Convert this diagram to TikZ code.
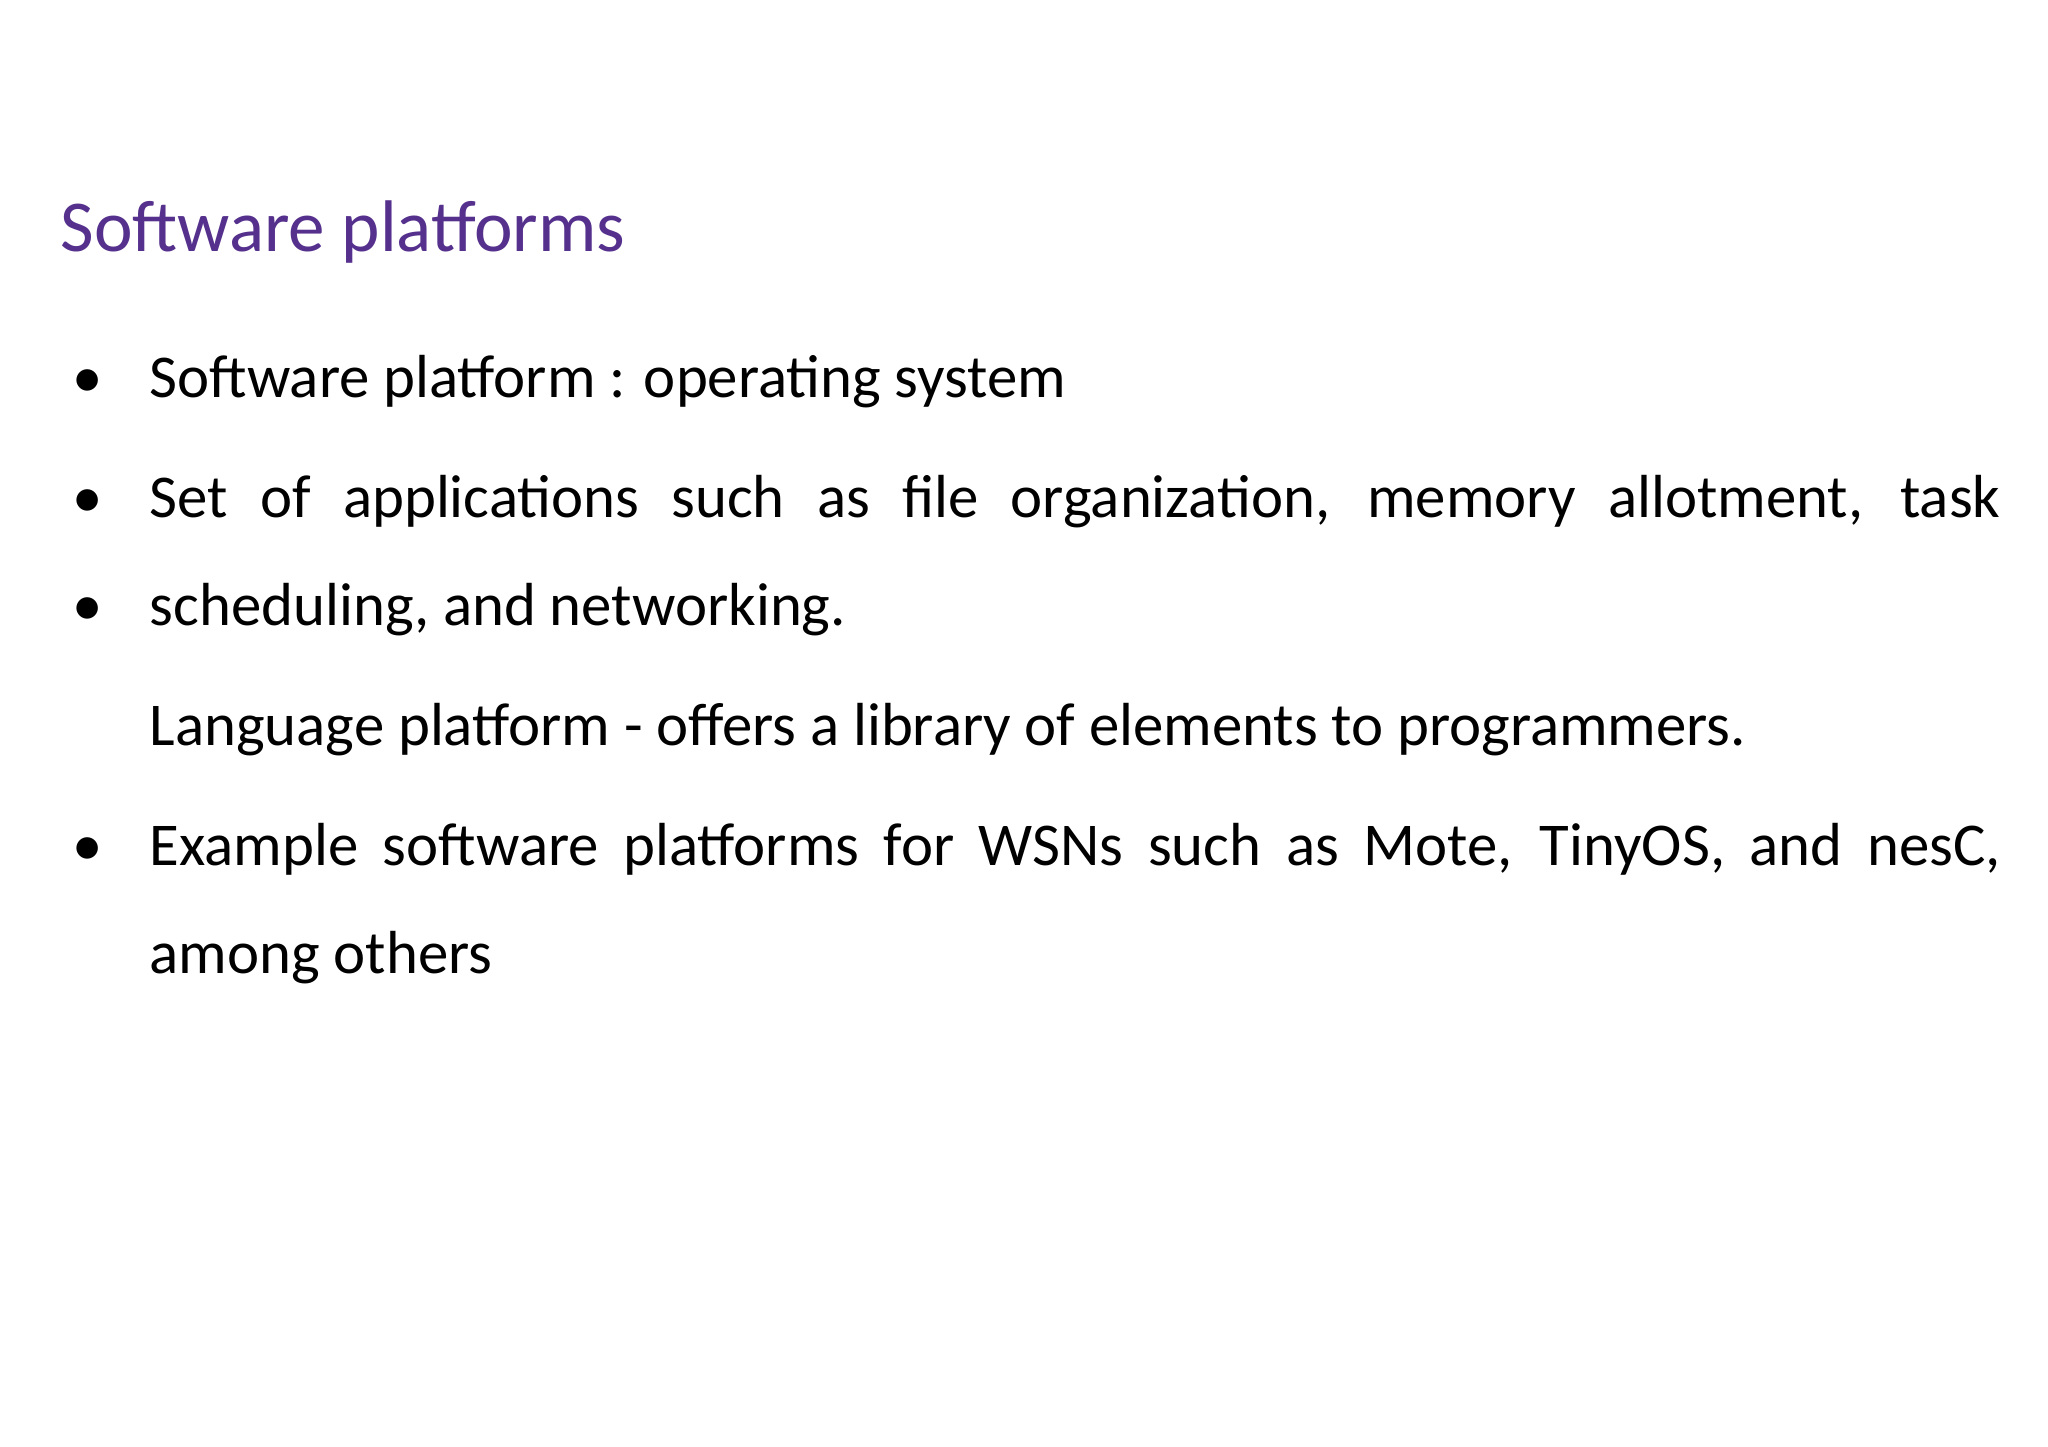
\documentclass[tikz,border=0pt]{standalone}
\usepackage{fontspec}
\setmainfont{Carlito}
\definecolor{ttl}{HTML}{55308D}
\begin{document}
\begin{tikzpicture}[x=1cm,y=-1cm,
  txt/.style={anchor=base west,inner sep=0pt,font=\fontsize{17.3pt}{20pt}\selectfont},
  bul/.style={txt}]
\useasboundingbox[fill=white] (0,0) rectangle (20.48,14.47);
\node[anchor=base west,inner sep=0pt,text=ttl,font=\fontsize{20.8pt}{24pt}\selectfont] (title) at (0.60,2.52) {Software platforms};
\foreach \y/\n in {3.98/b1,5.18/b2,6.26/b3,8.66/b4}{\node[bul] (\n) at (0.72,\y) {•};}
\node[txt] (l1) at (1.49,3.98) {Software platform : operating system};
\node[txt] (l2) at (1.49,5.18) {\makebox[18.51cm][s]{Set of applications such as file organization, memory allotment, task}};
\node[txt] (l3) at (1.49,6.26) {scheduling, and networking.};
\node[txt] (l4) at (1.49,7.46) {Language platform - offers a library of elements to programmers.};
\node[txt] (l5) at (1.49,8.66) {\makebox[18.51cm][s]{Example software platforms for WSNs such as Mote, TinyOS, and nesC,}};
\node[txt] (l6) at (1.49,9.74) {among others};
\end{tikzpicture}
\end{document}
